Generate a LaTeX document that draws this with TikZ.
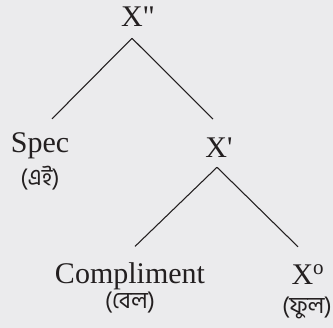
\documentclass[tikz,border=0pt]{standalone}
\usepackage{fontspec}
\setmainfont{Liberation Serif}
\newfontfamily\quotefont{Liberation Serif}[Ligatures=TeXOff]
\newfontfamily\bengfont[Script=Bengali]{Hind Siliguri}
\definecolor{bgGrey}{HTML}{EBEBED}
\definecolor{inkDark}{HTML}{231F20}
\usetikzlibrary{positioning}

\begin{document}
\begin{tikzpicture}[
    x=0.75pt, y=-0.75pt,
    cat/.style={inner sep=0pt, anchor=base, text=inkDark,
                font=\fontsize{22.5}{27}\selectfont},
    gloss/.style={inner sep=0pt, anchor=center, text=inkDark,
                  font=\fontsize{17.5}{21}\bengfont},
    branch/.style={draw=inkDark, line width=0.8pt}
  ]
    \fill[bgGrey] (0,0) rectangle (333,328);
    \useasboundingbox (0,0) rectangle (333,328);

    % categories
    \node[cat] (xdd) at (138,27) {X{\quotefont"}};
    \node[cat] (spec) at (40,153) {Spec};
    \node[cat] (xd) at (219,158) {X{\quotefont'}};
    \node[cat] (comp) at (130,284) {Compliment};
    \node[cat] (xo) at (308,285) {X\textsuperscript{o}};

    % glosses
    \node[gloss] (specgl) at (40,178) {(এই)};
    \node[gloss] (compgl) at (130,303) {(বেল)};
    \node[gloss] (xogl) at (307,308) {(ফুল)};

    % branches
    \draw[branch] ([shift={(-6,11)}]xdd.south) -- ([shift={(12,-14)}]spec.north);
    \draw[branch] ([shift={(-6,11)}]xdd.south) -- ([shift={(-6,-19)}]xd.north);
    \draw[branch] ([shift={(-2,9)}]xd.south) -- ([shift={(5,-16.5)}]comp.north);
    \draw[branch] ([shift={(-2,9)}]xd.south) -- ([shift={(-10,-18)}]xo.north);
\end{tikzpicture}
\end{document}
